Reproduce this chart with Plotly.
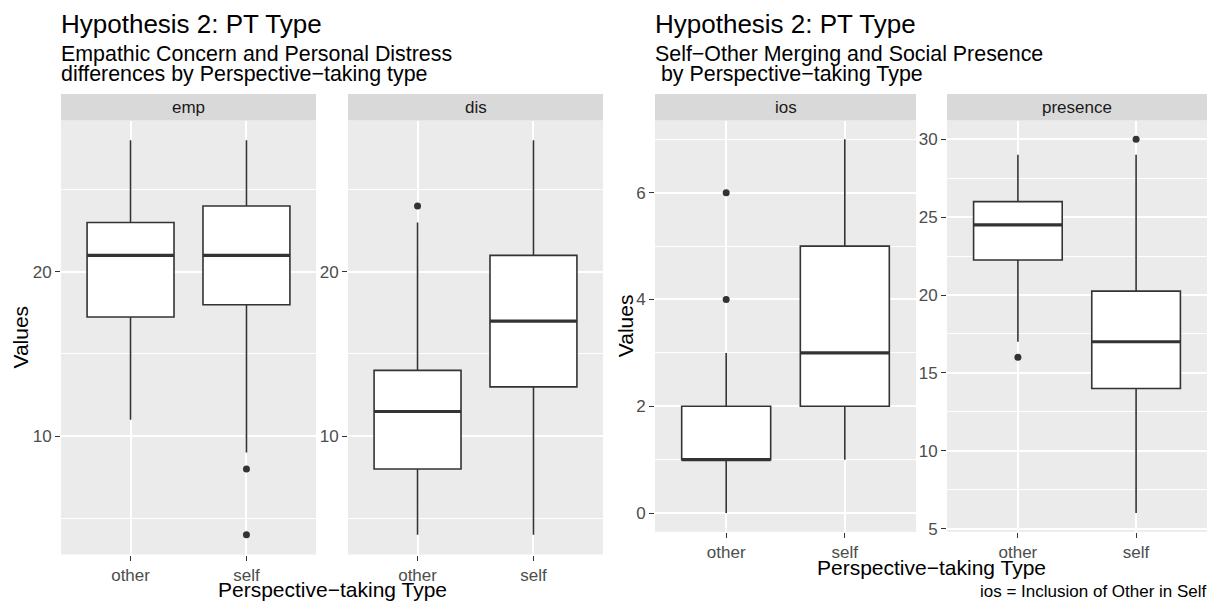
import plotly.graph_objects as go

# ---------------- data ----------------
categories = ["other", "self"]

panels = ["emp", "dis", "ios", "presence"]

emp_q1 = [17.25, 18.0]
emp_med = [21.0, 21.0]
emp_q3 = [23.0, 24.0]
emp_lo = [11.0, 9.0]
emp_hi = [28.0, 28.0]
emp_out = [[], [8.0, 4.0]]

dis_q1 = [8.0, 13.0]
dis_med = [11.5, 17.0]
dis_q3 = [14.0, 21.0]
dis_lo = [4.0, 4.0]
dis_hi = [23.0, 28.0]
dis_out = [[24.0], []]

ios_q1 = [1.0, 2.0]
ios_med = [1.0, 3.0]
ios_q3 = [2.0, 5.0]
ios_lo = [0.0, 1.0]
ios_hi = [3.0, 7.0]
ios_out = [[6.0, 4.0], []]

pres_q1 = [22.25, 14.0]
pres_med = [24.5, 17.0]
pres_q3 = [26.0, 20.25]
pres_lo = [17.0, 6.0]
pres_hi = [29.0, 29.0]
pres_out = [[16.0], [30.0]]

title_left = "Hypothesis 2: PT Type"
subtitle_left = ["Empathic Concern and Personal Distress",
                 "differences by Perspective\u2212taking type"]
title_right = "Hypothesis 2: PT Type"
subtitle_right = ["Self\u2212Other Merging and Social Presence",
                  " by Perspective\u2212taking Type"]
x_title = "Perspective\u2212taking Type"
y_title = "Values"
caption = "ios = Inclusion of Other in Self"

# ---------------- layout constants ----------------
W, H = 1218, 605
FONT = "Liberation Sans, Arial, Helvetica, sans-serif"
BOX_W = 0.75
LINE_C = "#333333"

panel_x = [(61, 316), (348, 603), (655, 916), (947, 1207)]
panel_y = [(122, 561), (122, 561), (122, 538), (122, 538)]
strip_top = 95

stats = [
    (emp_q1, emp_med, emp_q3, emp_lo, emp_hi, emp_out),
    (dis_q1, dis_med, dis_q3, dis_lo, dis_hi, dis_out),
    (ios_q1, ios_med, ios_q3, ios_lo, ios_hi, ios_out),
    (pres_q1, pres_med, pres_q3, pres_lo, pres_hi, pres_out),
]
major_dtick = [10, 10, 2, 5]
minor_dtick = [5, 5, 1, 2.5]


def px_x(p):
    return p / W


def px_y(p):
    return 1 - p / H


fig = go.Figure()
shapes = []
annotations = []
layout_axes = {}

for i, (name, (q1, med, q3, lo, hi, out)) in enumerate(zip(panels, stats)):
    n = i + 1
    xa = "x" if n == 1 else f"x{n}"
    ya = "y" if n == 1 else f"y{n}"
    pos = list(range(len(categories)))

    fig.add_trace(go.Box(
        x=pos, q1=q1, median=med, q3=q3, lowerfence=lo, upperfence=hi,
        width=BOX_W, whiskerwidth=0, fillcolor="white",
        line=dict(color=LINE_C, width=1.6), boxpoints=False,
        xaxis=xa, yaxis=ya, showlegend=False, hoverinfo="skip",
    ))
    # thicker median lines (ggplot fatten)
    mx, my = [], []
    for p, m in zip(pos, med):
        mx += [p - BOX_W / 2, p + BOX_W / 2, None]
        my += [m, m, None]
    fig.add_trace(go.Scatter(
        x=mx, y=my, mode="lines", line=dict(color=LINE_C, width=3.2),
        xaxis=xa, yaxis=ya, showlegend=False, hoverinfo="skip",
    ))
    # outliers
    ox, oy = [], []
    for p, vals in zip(pos, out):
        for v in vals:
            ox.append(p)
            oy.append(v)
    if ox:
        fig.add_trace(go.Scatter(
            x=ox, y=oy, mode="markers",
            marker=dict(color=LINE_C, size=7),
            xaxis=xa, yaxis=ya, showlegend=False, hoverinfo="skip",
        ))

    allv = lo + hi + [v for vals in out for v in vals]
    vmin, vmax = min(allv), max(allv)
    pad = 0.05 * (vmax - vmin)
    x0, x1 = panel_x[i]
    yt, yb = panel_y[i]

    layout_axes["xaxis" if n == 1 else f"xaxis{n}"] = dict(
        domain=[px_x(x0), px_x(x1)], anchor=ya,
        range=[-0.6, len(categories) - 0.4],
        tickmode="array", tickvals=pos, ticktext=categories,
        ticks="outside", ticklen=5, tickwidth=1.3, tickcolor=LINE_C,
        tickfont=dict(family=FONT, size=17, color="#4D4D4D"),
        showgrid=True, gridcolor="white", gridwidth=2,
        zeroline=False, showline=False, fixedrange=True,
    )
    layout_axes["yaxis" if n == 1 else f"yaxis{n}"] = dict(
        domain=[px_y(yb), px_y(yt)], anchor=xa,
        range=[vmin - pad, vmax + pad],
        tick0=0, dtick=major_dtick[i],
        ticks="outside", ticklen=5, tickwidth=1.3, tickcolor=LINE_C,
        tickfont=dict(family=FONT, size=17, color="#4D4D4D"),
        showgrid=True, gridcolor="white", gridwidth=2,
        minor=dict(tick0=0, dtick=minor_dtick[i], showgrid=True,
                   gridcolor="white", gridwidth=1, ticks=""),
        zeroline=False, showline=False, fixedrange=True,
    )

    # facet strip
    shapes.append(dict(type="rect", xref="paper", yref="paper",
                       x0=px_x(x0), x1=px_x(x1),
                       y0=px_y(yt), y1=px_y(strip_top),
                       fillcolor="#D9D9D9", line=dict(width=0), layer="below"))
    annotations.append(dict(text=name, xref="paper", yref="paper",
                            x=px_x((x0 + x1) / 2), y=px_y((yt + strip_top) / 2),
                            xanchor="center", yanchor="middle", showarrow=False,
                            font=dict(family=FONT, size=17, color="#1A1A1A")))


def add_text(text, x, y, size, xanchor="left", color="black", angle=0):
    annotations.append(dict(text=text, xref="paper", yref="paper",
                            x=px_x(x), y=px_y(y), xanchor=xanchor,
                            yanchor="middle", showarrow=False, textangle=angle,
                            font=dict(family=FONT, size=size, color=color)))


# titles
add_text(title_left, 59, 24, 26)
add_text(subtitle_left[0], 59, 55, 21.4)
add_text(subtitle_left[1], 59, 75, 21.4)
add_text(title_right, 653, 24, 26)
add_text(subtitle_right[0], 653, 55, 21.4)
add_text(subtitle_right[1], 653, 75, 21.4)

# axis titles
add_text(x_title, (61 + 603) / 2, 596, 21, xanchor="center")
add_text(x_title, (655 + 1207) / 2, 574, 21, xanchor="center")
add_text(y_title, 21, (122 + 561) / 2, 21, xanchor="center", angle=-90)
add_text(y_title, 625, (122 + 538) / 2, 21, xanchor="center", angle=-90)

# caption
add_text(caption, 1209, 598, 17, xanchor="right")

fig.update_layout(
    width=W, height=H,
    margin=dict(l=0, r=0, t=0, b=0),
    paper_bgcolor="white", plot_bgcolor="#EBEBEB",
    shapes=shapes, annotations=annotations,
    showlegend=False,
    **layout_axes,
)

fig.write_html(
    "out.html",
    config={"displayModeBar": False},
    post_script="document.body.style.margin='0px';"
                "document.body.style.overflow='hidden';",
)
